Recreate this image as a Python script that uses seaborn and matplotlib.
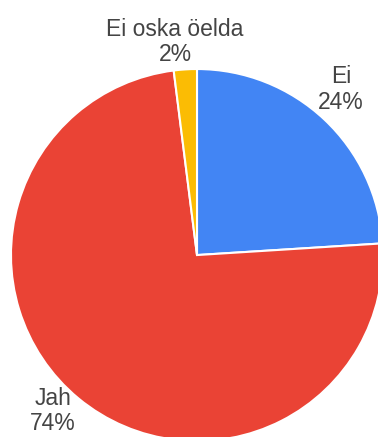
import matplotlib
matplotlib.use("Agg")
import matplotlib.pyplot as plt
import seaborn as sns

categories = ["Ei", "Jah", "Ei oska öelda"]
shares = [24, 74, 2]
colors = ["#4285f4", "#ea4335", "#fbbc04"]
# small label nudges (in pie-radius units) to keep labels clear of each other
label_nudge = [(-0.02, 0.045), (-0.035, 0.055), (-0.045, -0.012)]

sns.set_theme(style="white")
plt.rcParams["font.family"] = ["Liberation Sans", "DejaVu Sans"]

fig = plt.figure(figsize=(3.78, 4.37), dpi=100)
ax = fig.add_axes([0, 0, 1, 1])

labels = [f"{c}\n{v}%" for c, v in zip(categories, shares)]
wedges, texts = ax.pie(
    shares,
    labels=labels,
    colors=sns.color_palette(colors),
    startangle=90,
    counterclock=False,
    labeldistance=1.16,
    radius=1.0,
    wedgeprops=dict(edgecolor="white", linewidth=1.5),
    textprops=dict(fontsize=16.5, color="#444444", linespacing=1.15),
)
for t, (nx, ny) in zip(texts, label_nudge):
    x, y = t.get_position()
    t.set_position((x + nx, y + ny))
    t.set_horizontalalignment("center")
    t.set_verticalalignment("center")

ax.set_xlim(-1.059, 0.973)
ax.set_ylim(-0.978, 1.371)
ax.set_aspect("equal")
ax.axis("off")

fig.savefig("out.png", dpi=100, facecolor="white")
